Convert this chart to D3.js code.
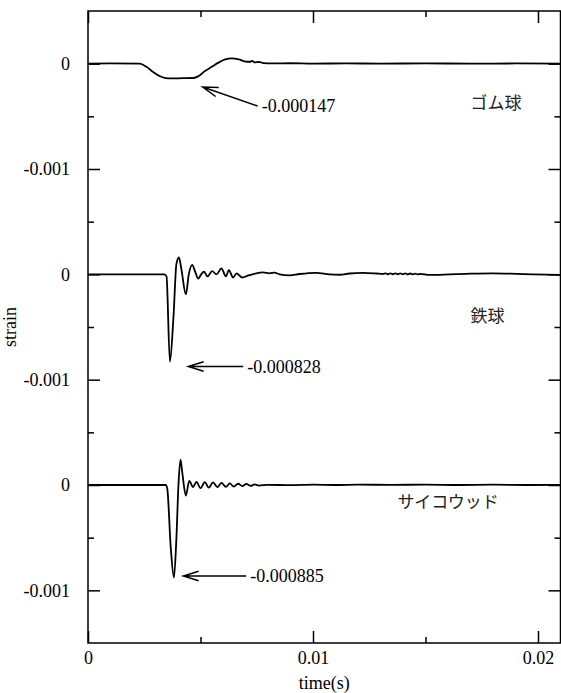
<!DOCTYPE html>
<html>
<head>
<meta charset="utf-8">
<script src="https://cdn.jsdelivr.net/npm/d3@7"></script>
<style>
	body { margin: 0; background: #fff; }
</style>
</head>
<body>
<svg id="chart" width="561" height="693"></svg>
<script>
// strain traces, [time(s), strain]; each panel is drawn around its own zero
const rubber = [
	[0, 0], [0.0010, 0.000002], [0.0023, 0], [0.0026, -0.00003], [0.0029, -0.00008],
	[0.0032, -0.00012], [0.0034, -0.000135], [0.0037, -0.00014], [0.0042, -0.000138],
	[0.0047, -0.000136], [0.0049, -0.00012], [0.0052, -0.00007], [0.0055, -0.00003],
	[0.0058, 0.00001], [0.0061, 0.00004], [0.0064, 0.00005], [0.0067, 0.00004],
	[0.0070, 0.00002], [0.0072, 0.000018], [0.0073, 0.000026], [0.0074, 0.000012],
	[0.0076, 0.000016], [0.0078, 0.000006], [0.0082, 0.000002], [0.0090, 0.000004],
	[0.0100, 0], [0.0115, 0.000003], [0.0130, 0], [0.0150, 0.000003], [0.0170, 0],
	[0.0190, 0.000002], [0.0210, 0.000001]
];
const steel = [
	[0, 0], [0.0034, 0], [0.00349, -0.00002], [0.00364, -0.00083], [0.0038, -0.0004],
	[0.00393, 0.0001], [0.00404, 0.00016], [0.00415, 0.00005], [0.00435, -0.00019],
	[0.00448, 0.0], [0.00463, 0.00009], [0.00477, 0.00002], [0.0049, -0.00004],
	[0.00503, 0.0], [0.00516, 0.000025], [0.00531, -0.00002], [0.00552, 0.00003],
	[0.00571, 0.0], [0.00593, 0.000057], [0.00613, -0.00002], [0.00626, 0.00004],
	[0.00645, -0.00003], [0.0066, 0.00001], [0.00685, -0.00003], [0.0071, -0.000013],
	[0.00748, 0.00001], [0.00777, 0.000018], [0.00807, 0.00001], [0.00829, 0.000016],
	[0.00851, 0], [0.00896, -0.00001], [0.0094, 0.000003], [0.01014, 0.000014],
	[0.01073, 0], [0.01118, -0.000004], [0.01162, 0.000008], [0.01221, 0.000014],
	[0.0128, 0.000008], [0.01311, 0.000003], [0.01322, 0.000009], [0.01333, 0.000001],
	[0.01344, 0.00001], [0.01355, 0.000001], [0.01366, 0.00001], [0.01377, 0.000001],
	[0.01388, 0.00001], [0.01399, 0.000001], [0.0141, 0.000009], [0.01421, 0],
	[0.01432, 0.000008], [0.01443, 0], [0.01454, 0.000007], [0.01465, 0],
	[0.01476, 0.000005], [0.01518, -0.000005], [0.01607, 0], [0.01681, 0.000005],
	[0.018, 0.00001], [0.01903, 0.000005], [0.01977, 0], [0.0210, -0.000005]
];
const plywood = [
	[0, 0], [0.00345, 0], [0.00352, -0.00003], [0.00368, -0.0006], [0.00382, -0.00088],
	[0.00393, -0.0005], [0.00402, 0.0], [0.00411, 0.00024], [0.0042, 0.0001],
	[0.00435, -0.0001], [0.0045, 0.00004], [0.00467, -0.00002], [0.00482, 0.00003],
	[0.005, -0.00003], [0.00519, 0.000028], [0.00537, -0.000025], [0.00556, 0.000025],
	[0.00575, -0.00002], [0.00593, 0.00002], [0.00613, -0.000018], [0.0063, 0.000015],
	[0.00648, -0.000015], [0.00667, 0.000012], [0.00686, -0.00001], [0.00704, 0.00001],
	[0.00723, -0.000008], [0.00741, 0.000006], [0.00759, -0.000005], [0.0080, 0.000002],
	[0.0090, -0.000002], [0.0100, 0.000003], [0.0110, 0], [0.0120, 0.000004],
	[0.0135, 0.000001], [0.0150, 0.000004], [0.0165, 0], [0.0180, 0.000003],
	[0.0195, 0], [0.0210, 0.000002]
];
const seriesData = [rubber, steel, plywood];
const seriesOffsets = [0, -0.002, -0.004];
const seriesNames = ["ゴム球", "鉄球", "サイコウッド"];
// label anchor in data units (time, strain relative to panel zero)
const nameAnchors = [[0.0170, -0.00037], [0.0170, -0.0004], [0.01375, -0.00016]];

// annotation arrows: tip and tail in data units relative to panel zero
const annotations = [
	{ s: 0, text: "-0.000147", tip: [0.0051, -0.000222], tail: [0.00754, -0.000402] },
	{ s: 1, text: "-0.000828", tip: [0.00446, -0.000875], tail: [0.0069, -0.000875] },
	{ s: 2, text: "-0.000885", tip: [0.00424, -0.000864], tail: [0.00703, -0.000864] }
];

const xMajor = [0, 0.01, 0.02];
const xMinor = [0.005, 0.015];
const yMajor = [0, -0.001, -0.002, -0.003, -0.004, -0.005];
const yMinor = [-0.0005, -0.0015, -0.0025, -0.0035, -0.0045];

const SERIF = '"Liberation Serif", "Times New Roman", "DejaVu Serif", serif';
const JP = '"Noto Sans CJK JP", sans-serif';

const margin = { left: 88, right: 0.5, top: 11, bottom: 50 };
const W = 561, H = 693;

let svg = d3.select("#chart");
let x = d3.scaleLinear().domain([0, 0.021]).range([margin.left, W - margin.right]);
let y = d3.scaleLinear().domain([-0.0055, 0.0005]).range([H - margin.bottom, margin.top]);

let yLabel = (v) => (Math.round(Math.abs(v) * 1000) % 2 === 0 ? "0" : "-0.001");
let xLabel = (v) => (v === 0 ? "0" : d3.format(".2f")(v));

function addAxis(axisFn, scale, vals, size, fmt, transform, pad) {
	let g = svg.append("g")
		.attr("transform", transform)
		.call(axisFn(scale).tickValues(vals).tickSize(-size).tickPadding(pad).tickFormat(fmt));
	g.attr("font-family", SERIF).attr("font-size", 18);
	g.select(".domain").remove();
	g.selectAll("line").attr("stroke", "#000").attr("stroke-width", 1.5);
	g.selectAll("text").attr("fill", "#000");
	return g;
}

const bottomY = H - margin.bottom, rightX = W - margin.right;
addAxis(d3.axisBottom, x, xMajor, 12, xLabel, `translate(0,${bottomY})`, 8);
addAxis(d3.axisBottom, x, xMinor, 6, "", `translate(0,${bottomY})`, 8);
addAxis(d3.axisTop, x, xMajor, 12, "", `translate(0,${margin.top})`, 8);
addAxis(d3.axisTop, x, xMinor, 6, "", `translate(0,${margin.top})`, 8);
addAxis(d3.axisLeft, y, yMajor, 12, yLabel, `translate(${margin.left},0)`, 18);
addAxis(d3.axisLeft, y, yMinor, 6, "", `translate(${margin.left},0)`, 18);
addAxis(d3.axisRight, y, yMajor, 12, "", `translate(${rightX},0)`, 8);
addAxis(d3.axisRight, y, yMinor, 6, "", `translate(${rightX},0)`, 8);

// frame
svg.append("rect")
	.attr("x", margin.left).attr("y", margin.top)
	.attr("width", rightX - margin.left).attr("height", bottomY - margin.top)
	.attr("fill", "none").attr("stroke", "#000").attr("stroke-width", 1.5);

// traces
seriesData.forEach((d, i) => {
	let off = seriesOffsets[i];
	let line = d3.line()
		.x((p) => x(p[0]))
		.y((p) => y(p[1] + off))
		.curve(d3.curveMonotoneX);
	svg.append("path")
		.datum(d)
		.attr("d", line)
		.attr("fill", "none")
		.attr("stroke", "#000")
		.attr("stroke-width", 1.8)
		.attr("stroke-linejoin", "round");

	svg.append("text")
		.attr("font-family", JP)
		.attr("x", x(nameAnchors[i][0]))
		.attr("y", y(nameAnchors[i][1] + off))
		.attr("dy", "0.35em")
		.attr("font-size", 17)
		.attr("fill", "#222")
		.text(seriesNames[i]);
});

// arrows + values
annotations.forEach((a) => {
	let off = seriesOffsets[a.s];
	let tx = x(a.tip[0]), ty = y(a.tip[1] + off);
	let lx = x(a.tail[0]), ly = y(a.tail[1] + off);
	let ang = Math.atan2(ly - ty, lx - tx);
	let hl = 16, spread = 0.3;
	let h1 = [tx + hl * Math.cos(ang + spread), ty + hl * Math.sin(ang + spread)];
	let h2 = [tx + hl * Math.cos(ang - spread), ty + hl * Math.sin(ang - spread)];
	svg.append("path")
		.attr("d", `M${lx},${ly}L${tx},${ty}M${h1[0]},${h1[1]}L${tx},${ty}L${h2[0]},${h2[1]}`)
		.attr("fill", "none")
		.attr("stroke", "#000")
		.attr("stroke-width", 1.5);
	svg.append("text")
		.attr("font-family", SERIF)
		.attr("x", lx + 4)
		.attr("y", ly)
		.attr("dy", "0.35em")
		.attr("font-size", 18)
		.text(a.text);
});

// axis titles
svg.append("text")
	.attr("font-family", SERIF)
	.attr("x", (margin.left + rightX) / 2)
	.attr("y", 689)
	.attr("text-anchor", "middle")
	.attr("font-size", 18)
	.text("time(s)");
svg.append("text")
	.attr("font-family", SERIF)
	.attr("transform", `translate(16,${(margin.top + bottomY) / 2}) rotate(-90)`)
	.attr("text-anchor", "middle")
	.attr("font-size", 18)
	.text("strain");
</script>
</body>
</html>
